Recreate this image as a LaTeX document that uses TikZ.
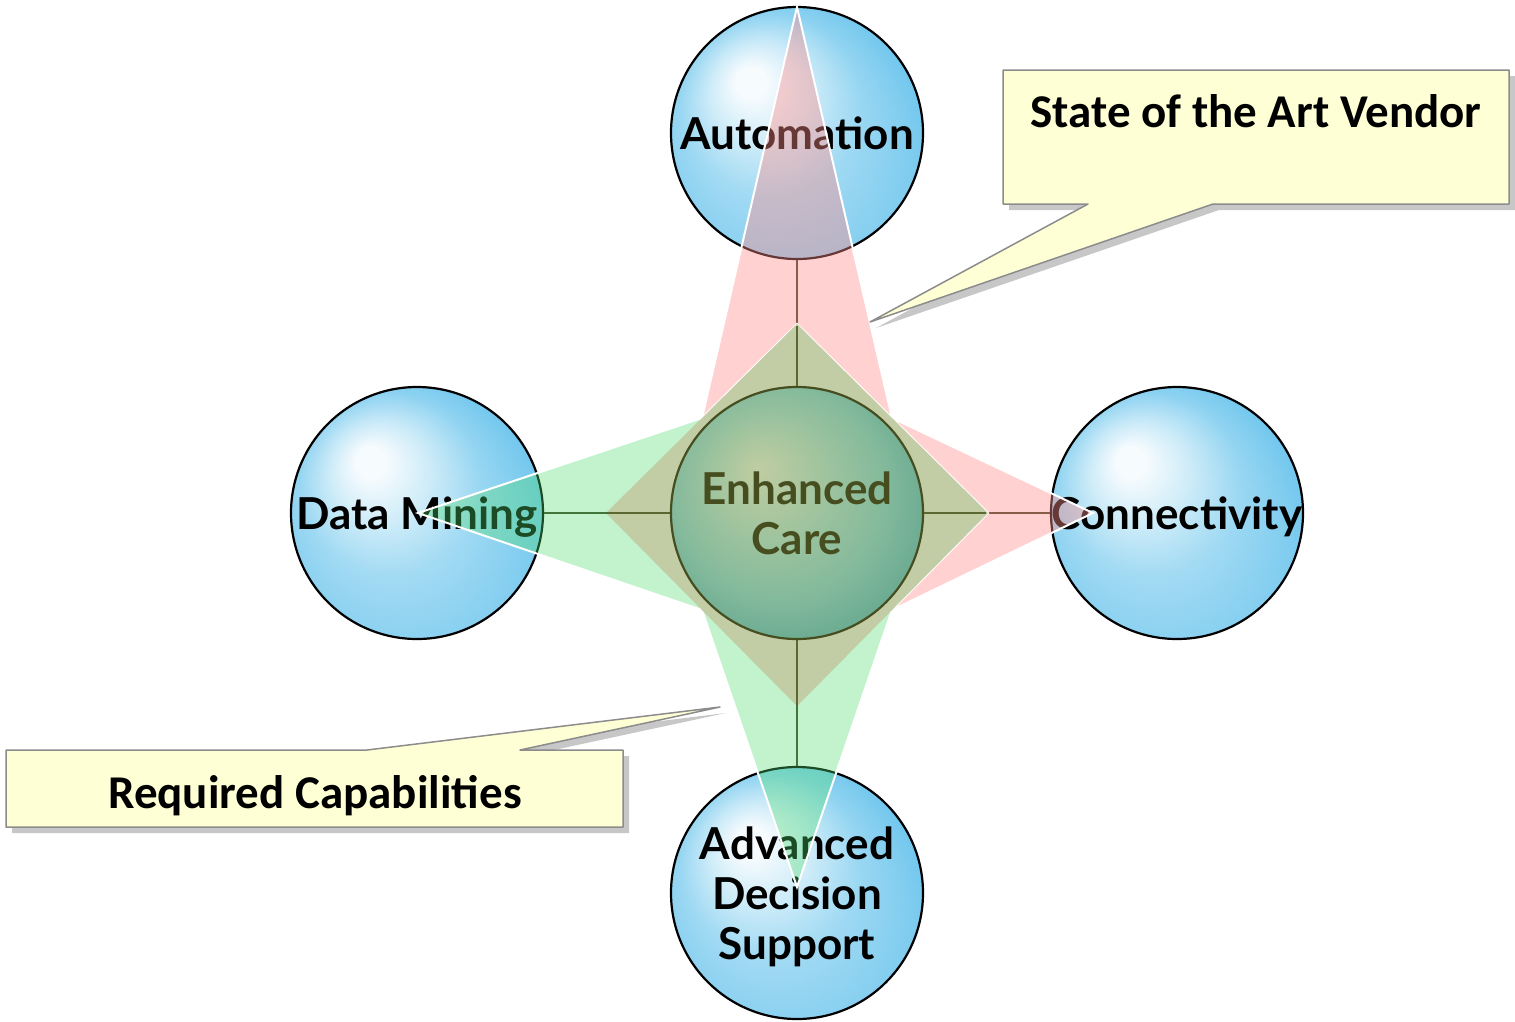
\documentclass[tikz,border=0pt]{standalone}
\usepackage{fontspec}
\setmainfont{Lato}
\newfontfamily\notefont{Carlito}
\usetikzlibrary{calc,backgrounds,fadings}
\pgfdeclarelayer{spheres}
\pgfdeclarelayer{spikes}
\pgfsetlayers{spheres,spikes,main}

\definecolor{sphereA}{RGB}{246,251,254}
\definecolor{sphereB}{RGB}{200,234,248}
\definecolor{sphereC}{RGB}{140,210,241}
\definecolor{sphereD}{RGB}{96,192,236}
\definecolor{sphereE}{RGB}{28,148,212}
\definecolor{careA}{RGB}{192,205,162}
\definecolor{careB}{RGB}{160,196,158}
\definecolor{careC}{RGB}{132,186,156}
\definecolor{careD}{RGB}{98,166,142}
\definecolor{careE}{RGB}{66,144,124}
\definecolor{careline}{RGB}{70,78,32}
\definecolor{spikered}{RGB}{255,140,137}
\definecolor{spikegreen}{RGB}{80,220,110}
\definecolor{diamondolive}{RGB}{128,150,70}
\definecolor{linkdark}{RGB}{58,62,30}
\definecolor{noteyellow}{RGB}{255,255,213}
\definecolor{noteborder}{RGB}{140,140,140}

\pgfdeclareradialshading{bluesphere}{\pgfpoint{-10bp}{11bp}}{color(0bp)=(sphereA); color(3bp)=(sphereA); color(10bp)=(sphereB); color(18bp)=(sphereC); color(28bp)=(sphereD); color(38bp)=(sphereE)}
\pgfdeclareradialshading{greensphere}{\pgfpoint{-8bp}{9bp}}{color(0bp)=(careA); color(11bp)=(careB); color(21bp)=(careC); color(31bp)=(careD); color(39bp)=(careE)}
\tikzfading[name=rimglow, top color=transparent!100, middle color=transparent!100, bottom color=transparent!72]

\tikzset{
    sphere/.style={circle, draw=black, line width=2.2pt, minimum size=252pt, inner sep=0pt, shading=bluesphere,
        path picture={\fill[white, path fading=rimglow] (path picture bounding box.south west) rectangle (path picture bounding box.north east);}},
    spheretext/.style={font=\fontsize{44}{50}\selectfont\bfseries, text=black, align=center, inner sep=0pt, text depth=0pt},
    carecircle/.style={circle, draw=careline, line width=2.2pt, minimum size=252pt, inner sep=0pt, shading=greensphere},
    connector/.style={draw=linkdark, line width=2pt},
    note/.style={fill=noteyellow, draw=noteborder, line width=1.5pt},
    noteshadow/.style={fill=black, opacity=.22},
    notetext/.style={font=\notefont\fontsize{47}{52}\selectfont\bfseries, anchor=base, inner sep=0pt}
}

\begin{document}
\begin{tikzpicture}[x=1pt, y=-1pt, line join=round]
    \useasboundingbox (0,0) rectangle (1515,1021);
    \coordinate (dt) at (797,324);
    \coordinate (dr) at (988,513);
    \coordinate (db) at (797,706);
    \coordinate (dl) at (606,513);
    \coordinate (in1) at (702,418);
    \coordinate (in2) at (892,418);
    \coordinate (in3) at (892,610);
    \coordinate (in4) at (702,610);
    \coordinate (ptop) at (797,7);
    \coordinate (pright) at (1093,513);
    \coordinate (gleft) at (418,513);
    \coordinate (gbottom) at (797,887);
    \node[carecircle, label={[spheretext, text=careline]center:Enhanced\\Care}] (care) at (797,513) {};
    \begin{pgfonlayer}{spheres}
        \node[sphere, label={[spheretext]center:Automation}] (auto) at (797,133) {};
        \node[sphere, label={[spheretext]center:Data Mining}] (mining) at (417,513) {};
        \node[sphere, label={[spheretext]center:Connectivity}] (conn) at (1177,513) {};
        \node[sphere, label={[spheretext]center:Advanced\\Decision\\Support}] (ads) at (797,893) {};
        \draw[connector] (care) -- (auto);
        \draw[connector] (care) -- (mining);
        \draw[connector] (care) -- (conn);
        \draw[connector] (care) -- (ads);
    \end{pgfonlayer}
    \begin{pgfonlayer}{spikes}
        \fill[spikegreen, opacity=.35] (in1) -- (gleft) -- (in4) -- (dl) -- cycle;
        \fill[spikegreen, opacity=.35] (in4) -- (gbottom) -- (in3) -- (db) -- cycle;
        \draw[white, line width=2pt] (in1) -- (gleft) -- (in4) -- (gbottom) -- (in3);
        \filldraw[fill=spikered, fill opacity=.4, draw=white, line width=2pt]
            (ptop) -- (in2) -- (pright) -- (in3) -- (dr) -- (dt) -- (in1) -- cycle;
        \fill[diamondolive, opacity=.48] (dt) -- (dr) -- (db) -- (dl) -- cycle;
    \end{pgfonlayer}
    \fill[noteshadow, xshift=6pt, yshift=-6pt] (1003,70) -- (1509,70) -- (1509,204) -- (1213,204) -- (870,322) -- (1088,204) -- (1003,204) -- cycle;
    \filldraw[note] (1003,70) -- (1509,70) -- (1509,204) -- (1213,204) -- (870,322) -- (1088,204) -- (1003,204) -- cycle;
    \node[notetext] (vendor) at (1256,127) {State of the Art Vendor};
    \fill[noteshadow, xshift=6pt, yshift=-6pt] (6,750) -- (367,750) -- (720,707) -- (520,750) -- (623,750) -- (623,827) -- (6,827) -- cycle;
    \filldraw[note] (6,750) -- (367,750) -- (720,707) -- (520,750) -- (623,750) -- (623,827) -- (6,827) -- cycle;
    \node[notetext] (required) at (315,808) {Required Capabilities};
\end{tikzpicture}
\end{document}
